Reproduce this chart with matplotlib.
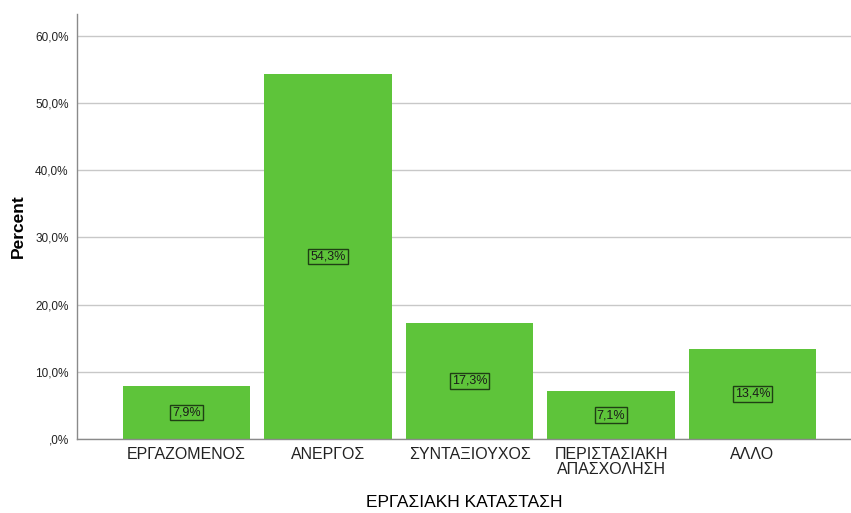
import matplotlib.pyplot as plt
import numpy as np

categories = ['ΕΡΓΑΖΟΜΕΝΟΣ', 'ΑΝΕΡΓΟΣ', 'ΣΥΝΤΑΞΙΟΥΧΟΣ', 'ΠΕΡΙΣΤΑΣΙΑΚΗ\nΑΠΑΣΧΟΛΗΣΗ', 'ΑΛΛΟ']
percent = [7.9, 54.3, 17.3, 7.1, 13.4]
y_ticks = [0, 10, 20, 30, 40, 50, 60]
y_tick_labels = [',0%', '10,0%', '20,0%', '30,0%', '40,0%', '50,0%', '60,0%']

plt.rcParams['font.family'] = ['Liberation Sans', 'DejaVu Sans']

fig = plt.figure(figsize=(8.51, 5.13), dpi=100)
ax = fig.add_axes([77 / 851, 1 - 439 / 513, 1 - 77 / 851, (439 - 14) / 513])

index = np.arange(len(categories))
ax.bar(index, percent, width=0.9, color='#5ec43a', zorder=2)

# value labels boxed in the middle of each bar
for i, v in zip(index, percent):
    ax.text(i, v / 2, f'{v:.1f}%'.replace('.', ','), ha='center', va='center',
            fontsize=9, color='#1a1a1a', zorder=3,
            bbox=dict(boxstyle='square,pad=0.15', facecolor='none',
                      edgecolor='#1f3f14', linewidth=1))

ax.set_xlim(-0.774, 4.696)
ax.set_ylim(0, 63.2)
ax.set_yticks(y_ticks)
ax.set_yticklabels(y_tick_labels, fontsize=8.5, color='#222222')
ax.set_xticks(index)
ax.set_xticklabels(categories, fontsize=11.5, color='#222222', linespacing=1.0)
ax.tick_params(length=0)
ax.tick_params(axis='y', pad=6)
ax.tick_params(axis='x', pad=6)

ax.yaxis.grid(True, color='#c8c8c8', linewidth=1, zorder=1)
for side in ['top', 'right']:
    ax.spines[side].set_visible(False)
for side in ['left', 'bottom']:
    ax.spines[side].set_color('#8a8a8a')
    ax.spines[side].set_linewidth(1)

ax.set_ylabel('Percent', fontsize=12.5, fontweight='bold', labelpad=7)
ax.set_xlabel('ΕΡΓΑΣΙΑΚΗ ΚΑΤΑΣΤΑΣΗ', fontsize=12.5, labelpad=13)

fig.savefig('out.png', dpi=100)
